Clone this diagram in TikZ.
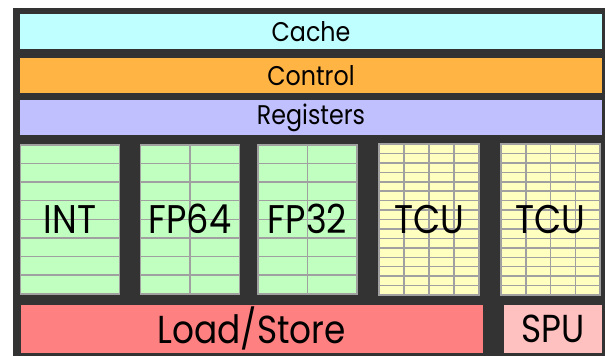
\documentclass[tikz,border=0pt]{standalone}
\usepackage{fontspec}
\setmainfont{Poppins}[FakeStretch=0.88]
\usetikzlibrary{calc}

\definecolor{framec}{HTML}{333333}
\definecolor{cachec}{HTML}{C0FFFF}
\definecolor{ctrlc}{HTML}{FFB444}
\definecolor{regc}{HTML}{C0C0FF}
\definecolor{aluc}{HTML}{C0FFC0}
\definecolor{tcuc}{HTML}{FFFFC0}
\definecolor{ldstc}{HTML}{FF8080}
\definecolor{spuc}{HTML}{FFC0C0}
\definecolor{gridc}{HTML}{A0A0A0}

\begin{document}
\begin{tikzpicture}[x=1pt, y=-1pt,
    bar/.style={rectangle, inner sep=0pt, outer sep=0pt, minimum width=582pt, minimum height=35pt, font=\fontsize{27}{28}\selectfont},
    cells/.style 2 args={path picture={
        \foreach \c in {0,...,#1}
            \draw[gridc, line width=1.5pt] ($(path picture bounding box.north west)!\c/#1!(path picture bounding box.north east)$) -- ($(path picture bounding box.south west)!\c/#1!(path picture bounding box.south east)$);
        \foreach \r in {0,...,#2}
            \draw[gridc, line width=1.5pt] ($(path picture bounding box.north west)!\r/#2!(path picture bounding box.south west)$) -- ($(path picture bounding box.north east)!\r/#2!(path picture bounding box.south east)$);
    }},
    unit/.style={rectangle, draw=gridc, line width=1.5pt, inner sep=0pt, outer sep=0pt, minimum width=99pt, minimum height=149pt, font=\fontsize{40}{42}\selectfont},
    lsu/.style={rectangle, inner sep=0pt, outer sep=0pt, minimum height=47.5pt, font=\fontsize{39}{40}\selectfont}
]
    \useasboundingbox (0,0) rectangle (605,356);
    \fill[framec] (12.5,7.5) rectangle (605,356);

    % shared blocks
    \node[bar, fill=cachec] (cache) at (311,31.5) {Cache};
    \node[bar, fill=ctrlc] (control) at (311,75.5) {Control};
    \node[bar, fill=regc] (regs) at (311,117.5) {Registers};

    % execution units
    \node[unit, fill=aluc, cells={1}{8}] (int) at (70,219.25) {INT};
    \node[unit, fill=aluc, cells={2}{8}] (fp64) at (190,219.25) {FP64};
    \node[unit, fill=aluc, cells={2}{8}] (fp32) at (307.5,219.25) {FP32};
    \node[unit, fill=tcuc, cells={4}{16}, minimum width=100pt, minimum height=151pt] (tcua) at (429,219.5) {TCU};
    \node[unit, fill=tcuc, cells={4}{16}, minimum width=99pt, minimum height=151pt] (tcub) at (550.5,219.5) {TCU};

    % memory and special function
    \node[lsu, fill=ldstc, minimum width=462pt] (ldst) at (251.6,328.8) {Load/Store};
    \node[lsu, fill=spuc, minimum width=98pt] (spu) at (553,328.8) {SPU};
\end{tikzpicture}
\end{document}
